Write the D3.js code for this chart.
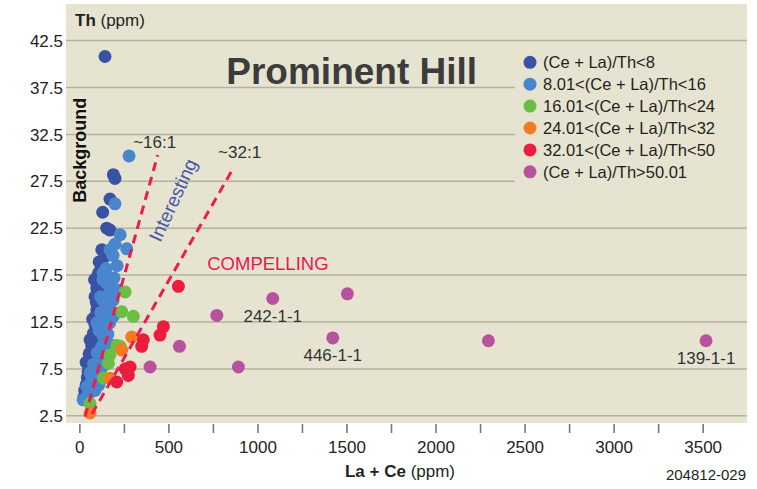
<!DOCTYPE html>
<html>
<head>
<meta charset="utf-8">
<style>
  body { margin: 0; background: #fff; }
  svg { display: block; font-family: "Liberation Sans", Arial, sans-serif; }
  .tick-label { font-family: "Liberation Sans Narrow", "Arial Narrow", sans-serif; font-size: 17px; fill: #231f20; }
</style>
</head>
<body>
<svg width="757" height="489" id="chart"></svg>
<script src="https://cdn.jsdelivr.net/npm/d3@7"></script>
<script>
// ---------------------------------------------------------------
// DATA  (x = La + Ce ppm, y = Th ppm)
// ---------------------------------------------------------------
var categories = [
  "(Ce + La)/Th<8",
  "8.01<(Ce + La)/Th<16",
  "16.01<(Ce + La)/Th<24",
  "24.01<(Ce + La)/Th<32",
  "32.01<(Ce + La)/Th<50",
  "(Ce + La)/Th>50.01"
];

var darkBlue = [
  [144, 40.8], [191, 28.2], [200, 27.8], [172, 25.6], [131, 24.2], [154, 22.5],
  [172, 22.3], [126, 20.2], [144, 19.5], [126, 18.4], [105, 17.5], [111, 18.9],
  [133, 16.6], [116, 15.6], [98, 16.1], [88, 15.2], [105, 14.1], [98, 13.8],
  [88, 12.2], [116, 12.7], [79, 11.3], [99, 10.6], [70, 9.9], [77, 9.5],
  [60, 8.4], [38, 8.2], [49, 7.2], [38, 5.8], [26, 4.5], [60, 10.6],
  [55, 9.1], [45, 6.6], [30, 5.2], [90, 13.1], [75, 12.8], [85, 17.0],
  [95, 14.6], [110, 17.8]
];

var lightBlue = [
  [279, 30.2], [200, 25.1], [229, 21.8], [266, 20.3], [172, 20.2], [189, 19.6],
  [212, 18.5], [133, 17.7], [133, 17.0], [154, 16.6], [172, 16.2], [172, 15.7],
  [217, 15.9], [133, 14.8], [189, 14.8], [154, 14.6], [161, 14.0], [191, 13.1],
  [98, 12.4], [144, 12.0], [135, 10.9], [126, 9.9], [184, 10.0], [161, 9.0],
  [116, 8.4], [139, 7.9], [60, 7.1], [98, 6.7], [105, 6.3], [88, 5.2],
  [42, 5.6], [79, 5.6], [42, 4.5], [21, 4.2], [120, 13.5], [150, 13.3],
  [170, 12.4], [110, 11.6], [160, 11.2], [100, 9.2], [140, 9.4], [80, 8.0],
  [120, 7.4], [70, 6.2], [60, 5.0], [110, 5.8], [150, 18.2], [195, 17.2],
  [120, 15.2], [200, 20.8]
];

var green = [
  [257, 15.7], [238, 13.6], [303, 13.1], [210, 10.0], [229, 9.9], [172, 9.0],
  [163, 8.1], [135, 6.5], [60, 3.8]
];

var orange = [
  [294, 10.9], [238, 9.5], [172, 6.5], [60, 2.8]
];

var red = [
  [556, 16.3], [472, 12.0], [453, 11.1], [359, 10.6], [350, 9.9], [285, 7.7],
  [257, 7.5], [275, 6.8], [210, 6.1]
];

var purple = [
  [1086, 15.0], [772, 13.2], [562, 9.9], [397, 7.7], [893, 7.7], [1505, 15.5],
  [1423, 10.8], [2297, 10.5], [3519, 10.5]
];

var series = [darkBlue, lightBlue, green, orange, red, purple];

// sample names written under three of the points
var sampleLabels = [
  ["242-1-1", 1086, 15.0],
  ["446-1-1", 1423, 10.8],
  ["139-1-1", 3519, 10.5]
];

// ~16:1 and ~32:1 ratio guides, [x, y] at each end
var ratioLines = [
  ["~16:1", [32, 2.4], [440, 30.3]],
  ["~32:1", [71, 2.7], [865, 28.9]]
];

var yTicks = d3.range(2.5, 43, 5);
var xTicks = d3.range(0, 3501, 250);

// ---------------------------------------------------------------
// STYLE
// ---------------------------------------------------------------
var colors = ["#3a52a3", "#4a86cd", "#6cbd45", "#f47b24", "#ec1c3c", "#b8529e"];
var bg = "#e6e4d1", gridColor = "#b4b29c", guideColor = "#ea1d52";

var svg = d3.select("#chart"),
    plot = {left: 66, right: 747, top: 4, bottom: 423};

var x = d3.scaleLinear().domain([-75, 3749]).range([plot.left, plot.right]),
    y = d3.scaleLinear().domain([1.73, 46.4]).range([plot.bottom, plot.top]);

// background
svg.append("rect")
    .attr("x", plot.left).attr("y", plot.top)
    .attr("width", plot.right - plot.left)
    .attr("height", plot.bottom - plot.top)
    .attr("fill", bg);

// horizontal grid
svg.append("g").selectAll("line")
  .data(yTicks)
  .enter().append("line")
    .attr("x1", plot.left).attr("x2", plot.right)
    .attr("y1", function(d) { return y(d); })
    .attr("y2", function(d) { return y(d); })
    .attr("stroke", gridColor)
    .attr("stroke-width", 1.5);

// y labels
svg.append("g").selectAll("text")
  .data(yTicks)
  .enter().append("text")
    .attr("class", "tick-label")
    .attr("x", 63)
    .attr("y", function(d) { return y(d); })
    .attr("dy", "0.36em")
    .attr("text-anchor", "end")
    .text(d3.format(".1f"));

// x axis: ticks every 250, labels every 500
var xAxis = d3.axisBottom(x)
    .tickValues(xTicks)
    .tickSize(9)
    .tickFormat(function(d) { return d % 500 === 0 ? d : ""; });

var gx = svg.append("g")
    .attr("transform", "translate(0," + (plot.bottom + 1) + ")")
    .call(xAxis);
gx.select(".domain").remove();
gx.selectAll(".tick line").attr("stroke", "#777").attr("stroke-width", 1.6);
gx.selectAll(".tick text")
    .attr("class", "tick-label")
    .attr("y", 17)
    .attr("dy", "0.71em");

// axis titles
var yt = svg.append("text").attr("x", 75).attr("y", 26)
    .style("font-size", "17px").attr("fill", "#231f20");
yt.append("tspan").style("font-weight", "bold").text("Th");
yt.append("tspan").text(" (ppm)");

var xt = svg.append("text").attr("x", 400).attr("y", 477)
    .attr("text-anchor", "middle")
    .style("font-size", "17px").attr("fill", "#231f20");
xt.append("tspan").style("font-weight", "bold").text("La + Ce");
xt.append("tspan").text(" (ppm)");

svg.append("text")
    .attr("class", "tick-label")
    .attr("x", 746).attr("y", 480)
    .attr("text-anchor", "end")
    .style("font-size", "15px")
    .text("204812-029");

// points
series.forEach(function(pts, i) {
  svg.append("g").selectAll("circle")
    .data(pts)
    .enter().append("circle")
      .attr("cx", function(d) { return x(d[0]); })
      .attr("cy", function(d) { return y(d[1]); })
      .attr("r", 6.5)
      .attr("fill", colors[i]);
});

// ratio guides
ratioLines.forEach(function(l) {
  svg.append("line")
      .attr("x1", x(l[1][0])).attr("y1", y(l[1][1]))
      .attr("x2", x(l[2][0])).attr("y2", y(l[2][1]))
      .attr("stroke", guideColor)
      .attr("stroke-width", 3)
      .attr("stroke-dasharray", "9,6");
});

// annotations
function note(txt, vx, vy, opts) {
  return svg.append("text")
      .attr("transform", "translate(" + x(vx) + "," + y(vy) + ")" + (opts.rotate ? " rotate(" + opts.rotate + ")" : ""))
      .attr("text-anchor", opts.anchor || "start")
      .style("font-size", opts.size + "px")
      .style("font-weight", opts.bold ? "bold" : "normal")
      .attr("fill", opts.color)
      .text(txt);
}
note("~16:1", 302, 31.0, {size: 17, color: "#333"});
note("~32:1", 779, 30.0, {size: 17, color: "#333"});
note("Interesting", 560, 25.2, {size: 19, color: "#4b56a8", rotate: -65, anchor: "middle"});
note("Background", 38, 30.8, {size: 18, color: "#111", rotate: -90, anchor: "middle", bold: true});
note("COMPELLING", 718, 18.0, {size: 18.5, color: "#e8194f"});
note("Prominent Hill", 825, 37.9, {size: 37, color: "#3c3c3c", bold: true});

sampleLabels.forEach(function(s) {
  svg.append("text")
      .attr("x", x(s[1]))
      .attr("y", y(s[2]) + 23)
      .attr("text-anchor", "middle")
      .style("font-size", "17px")
      .attr("fill", "#333")
      .text(s[0]);
});

// legend, on a box of plot colour that hides the grid behind it
var legend = svg.append("g");
legend.append("rect")
    .attr("x", 515).attr("y", 48)
    .attr("width", plot.right - 515).attr("height", 138)
    .attr("fill", bg);
var row = legend.selectAll(".row")
    .data(categories)
    .enter().append("g")
    .attr("transform", function(d, i) { return "translate(530," + (62.3 + i * 21.9) + ")"; });
row.append("circle").attr("r", 6.5).attr("fill", function(d, i) { return colors[i]; });
row.append("text")
    .attr("x", 13).attr("dy", "0.36em")
    .style("font-size", "16.5px")
    .attr("fill", "#231f20")
    .text(function(d) { return d; });
</script>
</body>
</html>
